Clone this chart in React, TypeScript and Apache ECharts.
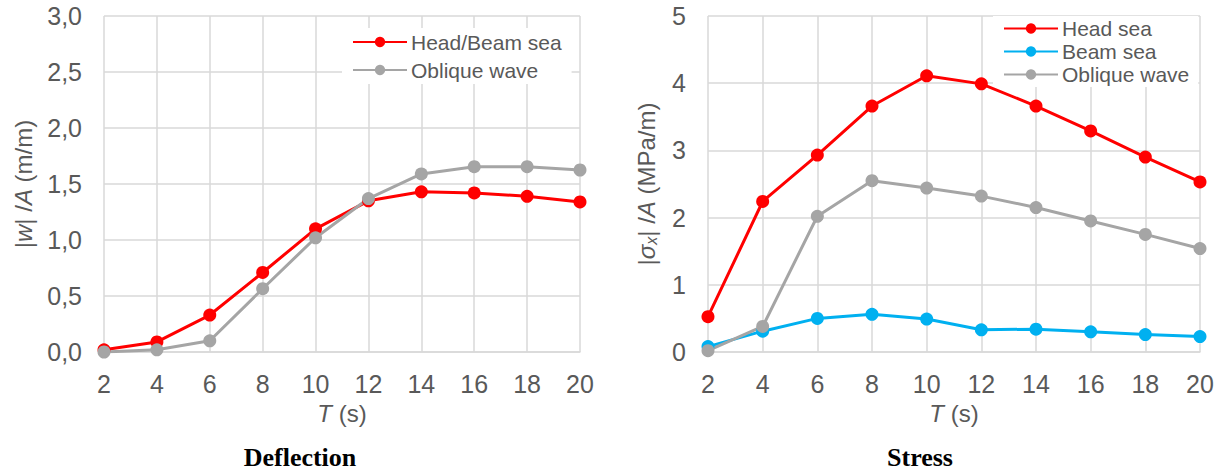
import React, { useEffect, useRef } from "react";
import * as echarts from "echarts";

const periods = [2, 4, 6, 8, 10, 12, 14, 16, 18, 20];

const deflHeadBeam = [0.02, 0.09, 0.33, 0.71, 1.10, 1.35, 1.43, 1.42, 1.39, 1.34];
const deflOblique = [0.0, 0.02, 0.10, 0.565, 1.02, 1.37, 1.59, 1.655, 1.655, 1.625];

const stressHead = [0.525, 2.24, 2.93, 3.66, 4.11, 3.99, 3.66, 3.29, 2.90, 2.53];
const stressBeam = [0.08, 0.31, 0.50, 0.56, 0.49, 0.33, 0.34, 0.30, 0.26, 0.23];
const stressOblique = [0.02, 0.38, 2.02, 2.55, 2.44, 2.32, 2.15, 1.95, 1.75, 1.54];

const RED = "#ff0000";
const BLUE = "#00b0f0";
const GRAY = "#a5a5a5";
const TEXT = "#595959";
const GRID = "#d9d9d9";
const FONT = "'Liberation Sans', Arial, sans-serif";

const pts = (ys: number[]) => periods.map((x, i) => [x, ys[i]]);

export default function App() {
  const ref = useRef<HTMLDivElement>(null);
  useEffect(() => {
    if (!ref.current) return;
    const chart = echarts.init(ref.current, undefined, { renderer: "svg" });

    const mkX = (gridIndex: number) => ({
      type: "value",
      gridIndex,
      min: 2,
      max: 20,
      interval: 2,
      name: "{i|T} (s)",
      nameLocation: "middle",
      nameGap: 49,
      nameTextStyle: {
        fontSize: 24,
        color: TEXT,
        fontFamily: FONT,
        rich: { i: { fontStyle: "italic", fontSize: 24, color: TEXT, fontFamily: FONT } },
      },
      axisLine: { show: true, lineStyle: { color: GRID, width: 1.5 } },
      axisTick: { show: false },
      axisLabel: { fontSize: 25, color: TEXT, fontFamily: FONT, margin: 19 },
      splitLine: { show: true, lineStyle: { color: GRID, width: 1.5 } },
    });

    const richBase = { fontSize: 24, color: TEXT, fontFamily: FONT };

    const series = (name: string, data: number[], color: string, xi: number) => ({
      type: "line",
      name,
      xAxisIndex: xi,
      yAxisIndex: xi,
      data: pts(data),
      symbol: "circle",
      symbolSize: 13,
      lineStyle: { color, width: 3 },
      itemStyle: { color },
      emphasis: { disabled: true },
    });

    chart.setOption({
      animation: false,
      textStyle: { fontFamily: FONT },
      grid: [
        { left: 104, right: 645, top: 16, bottom: 122 },
        { left: 708, right: 25, top: 16, bottom: 122 },
      ],
      xAxis: [mkX(0), mkX(1)],
      yAxis: [
        {
          type: "value",
          gridIndex: 0,
          min: 0,
          max: 3,
          interval: 0.5,
          name: "|{i|w}| /{i|A} (m/m)",
          nameLocation: "middle",
          nameGap: 69,
          nameTextStyle: {
            ...richBase,
            rich: {
              i: { ...richBase, fontStyle: "italic" },
            },
          },
          axisLine: { show: false },
          axisTick: { show: false },
          axisLabel: {
            fontSize: 25,
            color: TEXT,
            fontFamily: FONT,
            margin: 22,
            formatter: (v: number) => v.toFixed(1).replace(".", ","),
          },
          splitLine: { show: true, lineStyle: { color: GRID, width: 1.5 } },
        },
        {
          type: "value",
          gridIndex: 1,
          min: 0,
          max: 5,
          interval: 1,
          name: "|{i|σ}{s|x}| /{i|A} (MPa/m)",
          nameLocation: "middle",
          nameGap: 49,
          nameTextStyle: {
            ...richBase,
            rich: {
              i: { ...richBase, fontStyle: "italic" },
              s: { ...richBase, fontStyle: "italic", fontSize: 16, padding: [10, 0, 0, 0] },
            },
          },
          axisLine: { show: false },
          axisTick: { show: false },
          axisLabel: { fontSize: 25, color: TEXT, fontFamily: FONT, margin: 22 },
          splitLine: { show: true, lineStyle: { color: GRID, width: 1.5 } },
        },
      ],
      legend: [
        {
          data: ["Head/Beam sea", "Oblique wave"],
          orient: "vertical",
          left: 342,
          top: 28,
          padding: [3.5, 10, 3.5, 10],
          itemGap: 7,
          itemWidth: 54,
          itemHeight: 13,
          backgroundColor: "#ffffff",
          selectedMode: false,
          textStyle: { fontSize: 21, color: TEXT, fontFamily: FONT, padding: [0, 0, 0, -1] },
        },
        {
          data: ["Head sea", "Beam sea", "Oblique wave 2"],
          formatter: (n: string) => (n === "Oblique wave 2" ? "Oblique wave" : n),
          orient: "vertical",
          left: 993,
          top: 16,
          padding: [2, 9, 2, 10],
          itemGap: 2,
          itemWidth: 54,
          itemHeight: 13,
          backgroundColor: "#ffffff",
          selectedMode: false,
          textStyle: { fontSize: 21, color: TEXT, fontFamily: FONT, padding: [0, 0, 0, -1] },
        },
      ],
      title: [
        {
          text: "Deflection",
          left: 300,
          top: 444,
          textAlign: "center",
          padding: 0,
          textStyle: { fontSize: 26, fontWeight: "bold", color: "#000", fontFamily: "'Liberation Serif', 'Times New Roman', serif" },
        },
        {
          text: "Stress",
          left: 920,
          top: 444,
          textAlign: "center",
          padding: 0,
          textStyle: { fontSize: 26, fontWeight: "bold", color: "#000", fontFamily: "'Liberation Serif', 'Times New Roman', serif" },
        },
      ],
      series: [
        series("Head/Beam sea", deflHeadBeam, RED, 0),
        series("Oblique wave", deflOblique, GRAY, 0),
        series("Head sea", stressHead, RED, 1),
        series("Beam sea", stressBeam, BLUE, 1),
        series("Oblique wave 2", stressOblique, GRAY, 1),
      ],
    });
    return () => chart.dispose();
  }, []);
  return (
    <div
      ref={ref}
      style={{ position: "fixed", left: 0, top: 0, width: 1225, height: 474, background: "#fff" }}
    />
  );
}
